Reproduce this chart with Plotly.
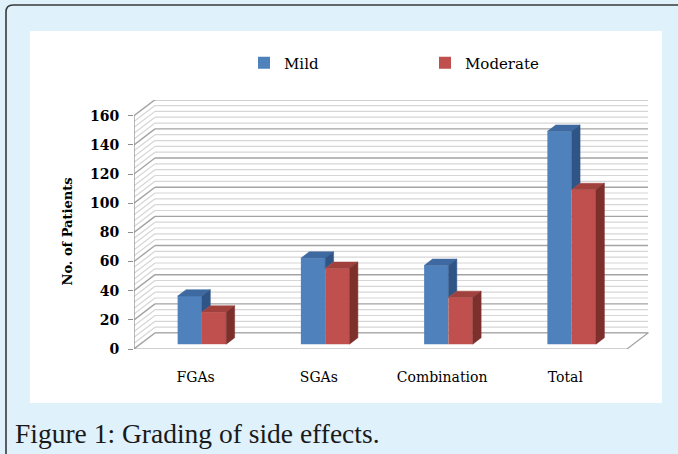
import plotly.graph_objects as go

# ---------------- data ----------------
categories = ["FGAs", "SGAs", "Combination", "Total"]
mild = [33, 59, 54, 146]
moderate = [22, 52, 32, 106]
y_ticks = [0, 20, 40, 60, 80, 100, 120, 140, 160]
minor_step = 4
series_names = ["Mild", "Moderate"]

# ---------------- layout geometry (pixels) ----------------
W, H = 678, 454
L, R, T, B = 134, 649, 100, 349          # plot area (includes 3D depth)
UX = 123.25                               # px per category
UY = 233.3 / 160                          # px per value unit
X0 = -0.5
XR = [X0, X0 + (R - L) / UX]
YR = [0, (B - T) / UY]
DX = 21 / UX                              # wall depth in data units
DY = 16 / UY
F0, F1 = 0.30, 0.70                       # bar depth (fraction of wall depth)
BW = 24.3 / UX                            # bar width


def px(x):
    return (x - L) / (R - L)


def py(y):
    return (B - y) / (B - T)


colors = {
    "Mild": ("#4F81BD", "#3E6AA1", "#2F5586"),
    "Moderate": ("#C0504D", "#A1413E", "#7D2F2C"),
}

fig = go.Figure()

n = len(categories)
base = F0 * DY
bdx = (F1 - F0) * DX
bdy = (F1 - F0) * DY
xs_front = [i + F0 * DX for i in range(n)]

# bar front faces
fig.add_trace(go.Bar(
    x=[c - BW / 2 for c in xs_front], y=mild, base=base, width=BW,
    name=series_names[0], marker=dict(color=colors["Mild"][0], line=dict(width=0)),
))
fig.add_trace(go.Bar(
    x=[c + BW / 2 for c in xs_front], y=moderate, base=base, width=BW,
    name=series_names[1], marker=dict(color=colors["Moderate"][0], line=dict(width=0)),
))


def face_trace(xs, ys, color):
    return go.Scatter(x=xs, y=ys, mode="lines", fill="toself", fillcolor=color,
                      line=dict(width=0.5, color=color), showlegend=False,
                      hoverinfo="skip")


# 3D top & side faces
for name, vals, other, left in [("Mild", mild, moderate, True),
                                ("Moderate", moderate, None, False)]:
    tx, ty, sx, sy = [], [], [], []
    for i in range(n):
        xa = xs_front[i] - BW if left else xs_front[i]
        xb = xa + BW
        top = base + vals[i]
        tx += [xa, xb, xb + bdx, xa + bdx, xa, None]
        ty += [top, top, top + bdy, top + bdy, top, None]
        low = base
        if other is not None:
            low = max(base, base + other[i])
        if top > low:
            sx += [xb, xb, xb + bdx, xb + bdx, xb, None]
            sy += [low, top, top + bdy, low + bdy, low, None]
    fig.add_trace(face_trace(tx, ty, colors[name][1]))
    fig.add_trace(face_trace(sx, sy, colors[name][2]))

shapes = []
# white chart panel
shapes.append(dict(type="rect", xref="paper", yref="paper",
                   x0=px(30), x1=px(662), y0=py(403), y1=py(31),
                   fillcolor="white", line=dict(width=0), layer="below"))
# outer border (left + top)
shapes.append(dict(type="path", xref="paper", yref="paper",
                   path=f"M {px(6)},{py(460)} L {px(6)},{py(12)} Q {px(6)},{py(5)} {px(13)},{py(5)} L {px(690)},{py(5)}",
                   line=dict(color="#3a3a3a", width=1.6), layer="below"))

xl = X0
xr = X0 + n
vmax = y_ticks[-1]
for v in range(0, vmax + 1, minor_step):
    major = v % (y_ticks[1] - y_ticks[0]) == 0
    col = "#a3a3a3" if major else "#d6d6d6"
    wid = 1.4 if major else 1.2
    shapes.append(dict(type="line", xref="x", yref="y", x0=xl + DX, x1=xr + DX,
                       y0=v + DY, y1=v + DY, line=dict(color=col, width=wid), layer="below"))
    shapes.append(dict(type="line", xref="x", yref="y", x0=xl, x1=xl + DX,
                       y0=v, y1=v + DY, line=dict(color=col, width=wid), layer="below"))
# floor
shapes.append(dict(type="path", xref="x", yref="y",
                   path=f"M {xl},0 L {xr},0 L {xr + DX},{DY} L {xl + DX},{DY} Z",
                   fillcolor="white", line=dict(color="#a3a3a3", width=1.2), layer="below"))
# front value axis line
shapes.append(dict(type="line", xref="x", yref="y", x0=xl, x1=xl, y0=0, y1=vmax,
                   line=dict(color="#8c8c8c", width=1.2), layer="below"))

annotations = [
    dict(text="No. of Patients", textangle=-90, xref="paper", yref="paper",
         x=px(58), y=py(232), showarrow=False,
         font=dict(family="DejaVu Serif", size=13, color="black", weight="bold")),
    dict(text="Figure 1: Grading of side effects.", xref="paper", yref="paper",
         x=px(13), y=py(433), xanchor="left", yanchor="middle", showarrow=False,
         font=dict(family="Liberation Serif", size=27.5, color="#1a1a1a")),
]

fig.update_layout(
    width=W, height=H,
    margin=dict(l=L, r=W - R, t=T, b=H - B, pad=0),
    paper_bgcolor="#DFF1FB", plot_bgcolor="white",
    barmode="overlay",
    shapes=shapes, annotations=annotations,
    showlegend=True,
    legend=dict(orientation="h", x=px(244), y=py(63), xanchor="left", yanchor="middle",
                entrywidth=136, entrywidthmode="pixels", traceorder="normal",
                bgcolor="rgba(0,0,0,0)",
                font=dict(family="DejaVu Serif", size=15, color="black")),
    xaxis=dict(range=XR, tickvals=list(range(n)), ticktext=categories,
               showgrid=False, zeroline=False, showline=False, ticks="",
               ticklabelstandoff=18,
               tickfont=dict(family="DejaVu Serif", size=14, color="black")),
    yaxis=dict(range=YR, tickvals=y_ticks, showgrid=False, zeroline=False,
               showline=False, ticks="outside", ticklen=5, tickcolor="#8c8c8c",
               ticklabelstandoff=6,
               tickfont=dict(family="DejaVu Serif", size=14, color="black", weight="bold")),
)

fig.write_html(
    "out.html",
    config={"displayModeBar": False},
    post_script="document.body.style.margin='0';document.body.style.overflow='hidden';",
)
